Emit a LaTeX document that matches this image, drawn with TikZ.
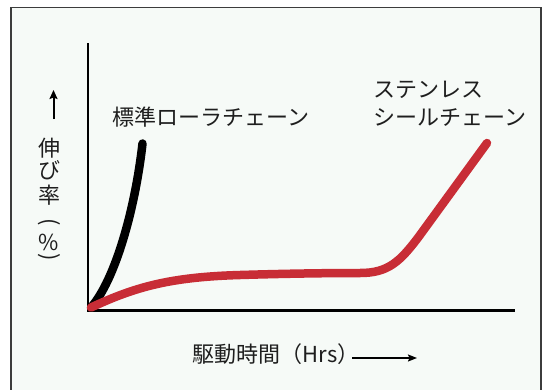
\documentclass[tikz,border=0pt]{standalone}
\usepackage{fontspec}
\setmainfont{Noto Sans CJK JP}
\usetikzlibrary{arrows.meta}
\definecolor{bgc}{RGB}{246,250,247}
\definecolor{redc}{RGB}{200,45,54}
\definecolor{txt}{RGB}{30,30,30}
\definecolor{framec}{RGB}{60,60,60}
\tikzset{
  lbl/.style={font=\fontsize{22}{28}\selectfont, text=txt, inner sep=0pt},
  curve/.style={line width=8.5pt, line cap=round, line join=round},
  axisline/.style={line width=2.7pt, draw=black, line join=miter},
}
\begin{document}
\begin{tikzpicture}[x=1pt,y=-1pt]
\useasboundingbox (0,0) rectangle (543,389);
% frame
\draw[framec, line width=1.5pt, fill=bgc] (11,7.7) rectangle (541,400);
% axes
\coordinate (ytop) at (88,43);
\coordinate (O) at (88,310.5);
\coordinate (xend) at (515,310.5);
\draw[axisline] (ytop) -- (O) -- (xend);
% curves
\coordinate (c0) at (91,307.5);
\coordinate (bk) at (142.5,143.5);
\coordinate (rd) at (487,143);
\draw[curve, black] (c0) .. controls (115,280) and (135,210) .. (bk);
\draw[curve, redc] (c0) .. controls (135,287) and (170,277) .. (240,275)
  .. controls (290,273.5) and (330,273) .. (360,273)
  .. controls (388,273) and (400,262) .. (420,235) -- (rd);
% curve labels
\node[lbl, anchor=west] (std) at (112,117.5) {標準ローラチェーン};
\node[lbl, anchor=west, align=left] (sus) at (373.5,104) {ステンレス\\シールチェーン};
% y label
\coordinate (ya0) at (53.5,119);
\coordinate (ya1) at (53.5,90);
\draw[line width=2pt, -{Stealth[length=9pt,width=8pt,inset=1.5pt]}] (ya0) -- (ya1);
\node[lbl] (y1) at (49,148) {伸};
\node[lbl] (y2) at (49,170.5) {び};
\node[lbl] (y3) at (49,195) {率};
\node[lbl, rotate=-90] (y4) at (49,222) {(};
\node[lbl] (y5) at (49,242) {\%};
\node[lbl, rotate=-90] (y6) at (49,257) {)};
% x label
\node[lbl, anchor=west] (xl) at (192.5,354) {駆動時間（Hrs）};
\coordinate (xa0) at (352,358);
\coordinate (xa1) at (417,358);
\draw[line width=1.6pt, -{Stealth[length=9pt,width=7pt,inset=1.5pt]}] (xa0) -- (xa1);
\end{tikzpicture}
\end{document}
